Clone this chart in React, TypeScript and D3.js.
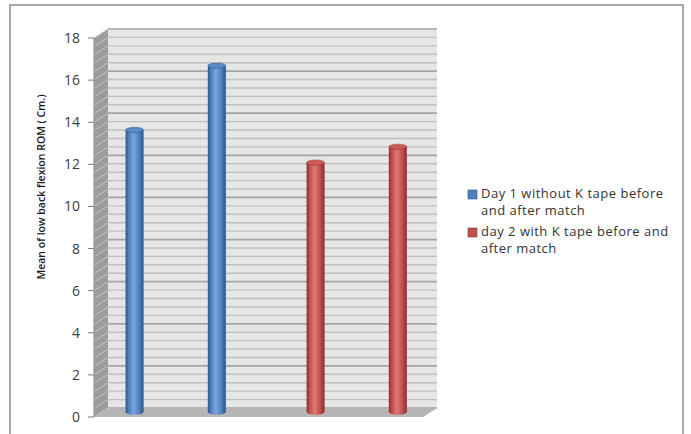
import React from "react";
import * as d3 from "d3";

// Four measurement occasions; each series fills its own pair of slots.
const categories = ["Day 1 before", "Day 1 after", "Day 2 before", "Day 2 after"];
const seriesNames = [
  "Day 1 without K tape before and after match",
  "day 2 with K tape before and after match",
];
const day1Values: (number | null)[] = [13.4, 16.45, null, null];
const day2Values: (number | null)[] = [null, null, 11.85, 12.6];
const yTicks = [0, 2, 4, 6, 8, 10, 12, 14, 16, 18];
const yLabel = "Mean of low back flexion ROM ( Cm.)";
const legendLines = [
  ["Day 1 without K tape before", "and after match"],
  ["day 2 with K tape before and", "after match"],
];

const W = 691;
const H = 434;

// Front plane of the plot and the perspective offset for depth.
const X0 = 94;
const X1 = 423;
const Y0 = 417;
const Y1 = 38;
const DX = 14;
const DY = -9;
const BAR_Z = 0.55;

const colors = [
  { dark: "#2a5588", mid: "#4f81bd", light: "#7aa6dc", top: "#5b8cc9" },
  { dark: "#8a2f2c", mid: "#c0504d", light: "#e07a77", top: "#cf5c59" },
];

export default function App() {
  const y = d3.scaleLinear().domain([0, 18]).range([Y0, Y1]);
  const x = d3.scaleBand<string>().domain(categories).range([X0, X1]).padding(0);
  const sub = d3
    .scaleBand<number>()
    .domain([0, 1])
    .range([x.bandwidth() / 2 - 16.5, x.bandwidth() / 2 + 16.5]);

  const minorTicks = d3.range(0, 18.0001, 0.4).map((v) => +v.toFixed(2));
  const isMajor = (v: number) => Math.abs(v / 2 - Math.round(v / 2)) < 1e-6;

  const rx = 9;
  const ry = 2.6;

  const bars: { cx: number; top: number; bottom: number; s: number; key: string }[] = [];
  [day1Values, day2Values].forEach((vals, s) => {
    vals.forEach((v, i) => {
      if (v == null) return;
      const cx = (x(categories[i]) as number) + (sub(s) as number) + sub.bandwidth() / 2 + DX * BAR_Z;
      bars.push({ cx, top: y(v) + DY * BAR_Z, bottom: y(0) + DY * BAR_Z, s, key: `${s}-${i}` });
    });
  });

  const font = "'Open Sans', 'DejaVu Sans', sans-serif";

  return (
    <svg
      width={W}
      height={H}
      style={{ position: "absolute", left: 0, top: 0, background: "#fff" }}
    >
      <defs>
        {colors.map((c, i) => (
          <linearGradient key={i} id={`cyl${i}`} x1="0" x2="1" y1="0" y2="0">
            <stop offset="0" stopColor={c.dark} />
            <stop offset="0.18" stopColor={c.mid} />
            <stop offset="0.45" stopColor={c.light} />
            <stop offset="0.75" stopColor={c.mid} />
            <stop offset="1" stopColor={c.dark} />
          </linearGradient>
        ))}
      </defs>

      {/* outer frame */}
      <rect x={10} y={5} width={673} height={440} fill="#fff" stroke="#8c8c8c" strokeWidth={1.5} />

      {/* back wall */}
      <rect x={X0 + DX} y={Y1 + DY} width={X1 - X0} height={Y0 - Y1} fill="#e6e6e6" />
      {minorTicks.map((v) => (
        <line
          key={`g${v}`}
          x1={X0 + DX}
          x2={X1 + DX}
          y1={y(v) + DY}
          y2={y(v) + DY}
          stroke={isMajor(v) ? "#a4a4a4" : "#c0c0c0"}
          strokeWidth={isMajor(v) ? 1.7 : 1.4}
        />
      ))}

      {/* side wall */}
      <polygon
        points={`${X0},${Y1} ${X0 + DX},${Y1 + DY} ${X0 + DX},${Y0 + DY} ${X0},${Y0}`}
        fill="#9c9c9c"
      />
      {minorTicks.map((v) => (
        <line
          key={`s${v}`}
          x1={X0}
          x2={X0 + DX}
          y1={y(v)}
          y2={y(v) + DY}
          stroke="#c6c6c6"
          strokeWidth={0.9}
        />
      ))}

      {/* floor */}
      <polygon
        points={`${X0},${Y0} ${X1},${Y0} ${X1 + DX},${Y0 + DY} ${X0 + DX},${Y0 + DY}`}
        fill="#b5b5b5"
      />

      {/* axis ticks and labels */}
      <line x1={X0} x2={X0} y1={Y1} y2={Y0} stroke="#8a8a8a" strokeWidth={1} />
      {yTicks.map((t) => (
        <g key={`t${t}`}>
          <line x1={X0 - 6} x2={X0} y1={y(t)} y2={y(t)} stroke="#7a7a7a" strokeWidth={1} />
          <text
            x={X0 - 14}
            y={y(t)}
            dy="0.36em"
            textAnchor="end"
            fontFamily={font}
            fontSize={14}
            fill="#404040"
          >
            {t}
          </text>
        </g>
      ))}

      <text
        transform={`translate(45,187) rotate(-90)`}
        textAnchor="middle"
        fontFamily="'Open Sans', sans-serif"
        fontWeight={600}
        fontSize={11}
        fill="#1a1a1a"
        textLength={185}
        lengthAdjust="spacingAndGlyphs"
      >
        {yLabel}
      </text>

      {/* cylinders */}
      {bars.map((b) => {
        const c = colors[b.s];
        const body = `M${b.cx - rx},${b.top} L${b.cx - rx},${b.bottom} A${rx},${ry} 0 0 0 ${b.cx + rx},${b.bottom} L${b.cx + rx},${b.top} Z`;
        return (
          <g key={b.key}>
            <path d={body} fill={`url(#cyl${b.s})`} />
            <ellipse cx={b.cx} cy={b.top} rx={rx} ry={ry} fill={c.top} stroke={c.dark} strokeWidth={0.5} />
          </g>
        );
      })}

      {/* legend */}
      {seriesNames.map((name, i) => {
        const baseY = 198 + i * 38;
        return (
          <g key={name}>
            <rect x={468} y={baseY - 8} width={9} height={9} fill={colors[i].mid} stroke={colors[i].dark} strokeWidth={0.6} />
            {legendLines[i].map((ln, j) => (
              <text
                key={j}
                x={481}
                y={baseY + j * 17}
                fontFamily={font}
                fontSize={13}
                letterSpacing={0.5}
                fill="#333"
              >
                {ln}
              </text>
            ))}
          </g>
        );
      })}
    </svg>
  );
}
